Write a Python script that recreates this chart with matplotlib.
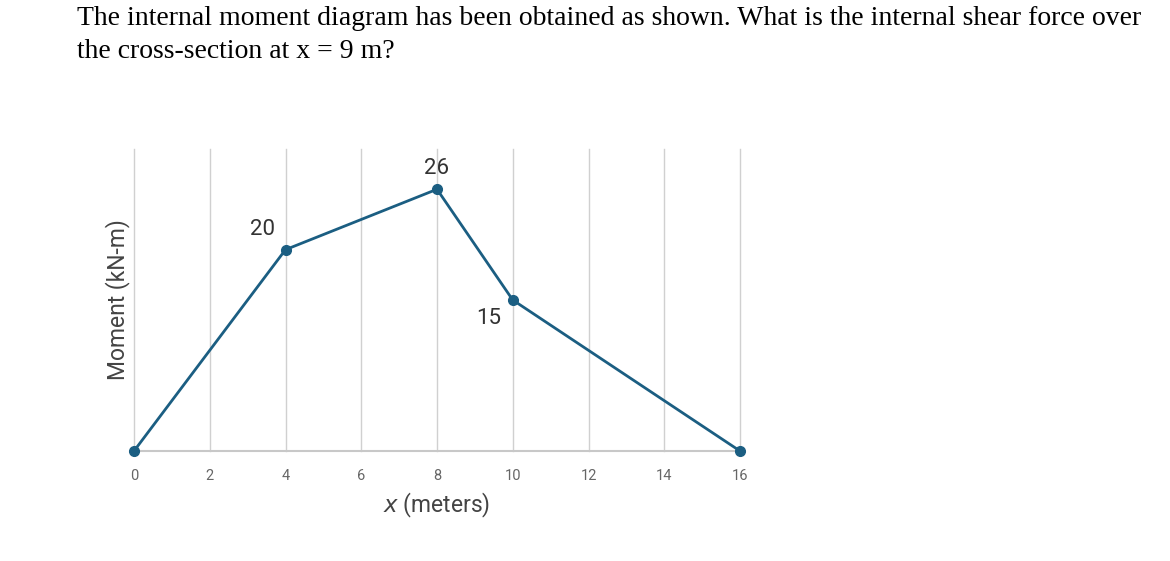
import matplotlib
matplotlib.use("Agg")
import matplotlib.pyplot as plt

# Datos del diagrama de momento
x_m = [0, 4, 8, 10, 16]
moment = [0, 20, 26, 15, 0]
labels = {4: "20", 8: "26", 10: "15"}
xticks = [0, 2, 4, 6, 8, 10, 12, 14, 16]

question = ("The internal moment diagram has been obtained as shown. What is the internal shear force over\n"
            "the cross-section at x = 9 m?")

fig = plt.figure(figsize=(11.7, 5.61), dpi=100)
fig.text(0.066, 0.99, question, ha='left', va='top', fontsize=20,
         family='Liberation Serif', linespacing=1.42)

ax = fig.add_axes([134/1170, 110/561, 606/1170, 302/561])
color = '#1b5e82'
ax.plot(x_m, moment, color=color, linewidth=2, marker='o', markersize=7, clip_on=False, zorder=3)

for xv, yv in zip(x_m, moment):
    if xv in labels:
        if xv == 10:
            ax.text(xv - 0.3, yv - 0.8, labels[xv], ha='right', va='top', fontsize=16,
                    color='#333333', family='Roboto')
        else:
            ax.text(xv - 0.6 if xv == 4 else xv, yv + 1.0, labels[xv], ha='center', va='bottom',
                    fontsize=16, color='#333333', family='Roboto')

ax.set_xlim(0, 16)
ax.set_ylim(0, 30)
ax.set_xticks(xticks)
ax.set_yticks([])
ax.grid(True, axis='x', color='#d0d0d0', linewidth=1)
for gl in ax.get_xgridlines():
    gl.set_clip_on(False)
for s in ['top', 'right', 'left']:
    ax.spines[s].set_visible(False)
ax.spines['bottom'].set_color('#c8c8c8')
ax.spines['bottom'].set_linewidth(1.5)
ax.tick_params(axis='x', length=0, pad=13, labelsize=10.5, labelcolor='#666666')
for t in ax.get_xticklabels():
    t.set_family('Roboto')

ax.set_xlabel("$x$ (meters)", fontsize=16.5, color='#444444', family='Roboto', labelpad=6)
ax.set_ylabel("Moment (kN-m)", fontsize=16.5, color='#444444', family='Roboto', labelpad=3)

fig.savefig("out.png", dpi=100)
